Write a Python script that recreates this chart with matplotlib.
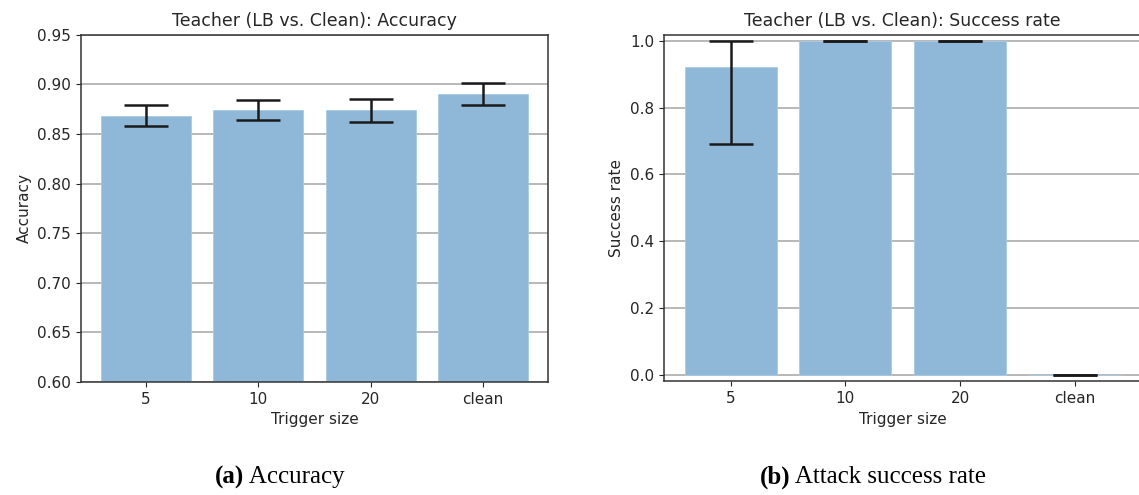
import matplotlib
matplotlib.use("Agg")
import matplotlib.pyplot as plt
import numpy as np
from matplotlib.offsetbox import TextArea, HPacker, AnnotationBbox

categories = ["5", "10", "20", "clean"]
acc_mean = [0.868, 0.874, 0.874, 0.890]
acc_low = [0.858, 0.864, 0.862, 0.879]
acc_high = [0.879, 0.884, 0.885, 0.901]
sr_mean = [0.92, 1.0, 1.0, 0.0]
sr_low = [0.69, 1.0, 1.0, 0.0]
sr_high = [1.0, 1.0, 1.0, 0.0]

plt.rcParams['font.family'] = ['DejaVu Sans']
W, H = 1139, 495
fig = plt.figure(figsize=(W / 100, H / 100), dpi=100)

def px_axes(x0, y0, x1, y1):
    return fig.add_axes([x0 / W, 1 - y1 / H, (x1 - x0) / W, (y1 - y0) / H])

ax1 = px_axes(80.7, 34.7, 548.3, 382)
ax2 = px_axes(664, 34.7, 1141.6, 381.3)

bar_color = "#8fb8d8"
text_color = "#262626"

def draw(ax, mean, low, high, title, ylabel):
    x = np.arange(len(categories))
    m = np.array(mean)
    yerr = np.vstack([m - np.array(low), np.array(high) - m])
    ax.set_axisbelow(True)
    ax.yaxis.grid(True, color="#b8b8b8", linewidth=1.4)
    ax.bar(x, m, width=0.8, color=bar_color, edgecolor="#a9cbe4", linewidth=0.6,
           yerr=yerr, capsize=16,
           error_kw=dict(ecolor="#1a1a1a", elinewidth=1.8, capthick=1.8))
    ax.set_xticks(x)
    ax.set_xticklabels(categories)
    ax.set_xlim(-0.58, 3.58)
    ax.set_title(title, fontsize=12.5, color=text_color, pad=6)
    ax.set_xlabel("Trigger size", fontsize=11, color=text_color)
    ax.set_ylabel(ylabel, fontsize=11, color=text_color)
    ax.tick_params(labelsize=11, colors=text_color)
    for s in ax.spines.values():
        s.set_color("#333333")
        s.set_linewidth(1.1)

draw(ax1, acc_mean, acc_low, acc_high, "Teacher (LB vs. Clean): Accuracy", "Accuracy")
ax1.set_ylim(0.60, 0.95)
yt = np.arange(0.60, 0.951, 0.05)
ax1.set_yticks(yt)
ax1.set_yticklabels([f"{v:.2f}" for v in yt])

draw(ax2, sr_mean, sr_low, sr_high, "Teacher (LB vs. Clean): Success rate", "Success rate")
ax2.set_ylim(-0.019, 1.018)
ax2.set_yticks([0.0, 0.2, 0.4, 0.6, 0.8, 1.0])
ax2.set_yticklabels(["0.0", "0.2", "0.4", "0.6", "0.8", "1.0"])

def caption(xc, label, rest):
    a = TextArea(label, textprops=dict(family="Liberation Serif", fontsize=18,
                                       fontweight="bold", color="black"))
    b = TextArea(" " + rest, textprops=dict(family="Liberation Serif", fontsize=18,
                                            color="black"))
    box = HPacker(children=[a, b], align="baseline", pad=0, sep=0)
    ab = AnnotationBbox(box, (xc / W, 1 - 477 / H), xycoords="figure fraction",
                        frameon=False, box_alignment=(0.5, 0.5))
    fig.add_artist(ab)

caption(280, "(a)", "Accuracy")
caption(873, "(b)", "Attack success rate")

fig.savefig("out.png", dpi=100)
